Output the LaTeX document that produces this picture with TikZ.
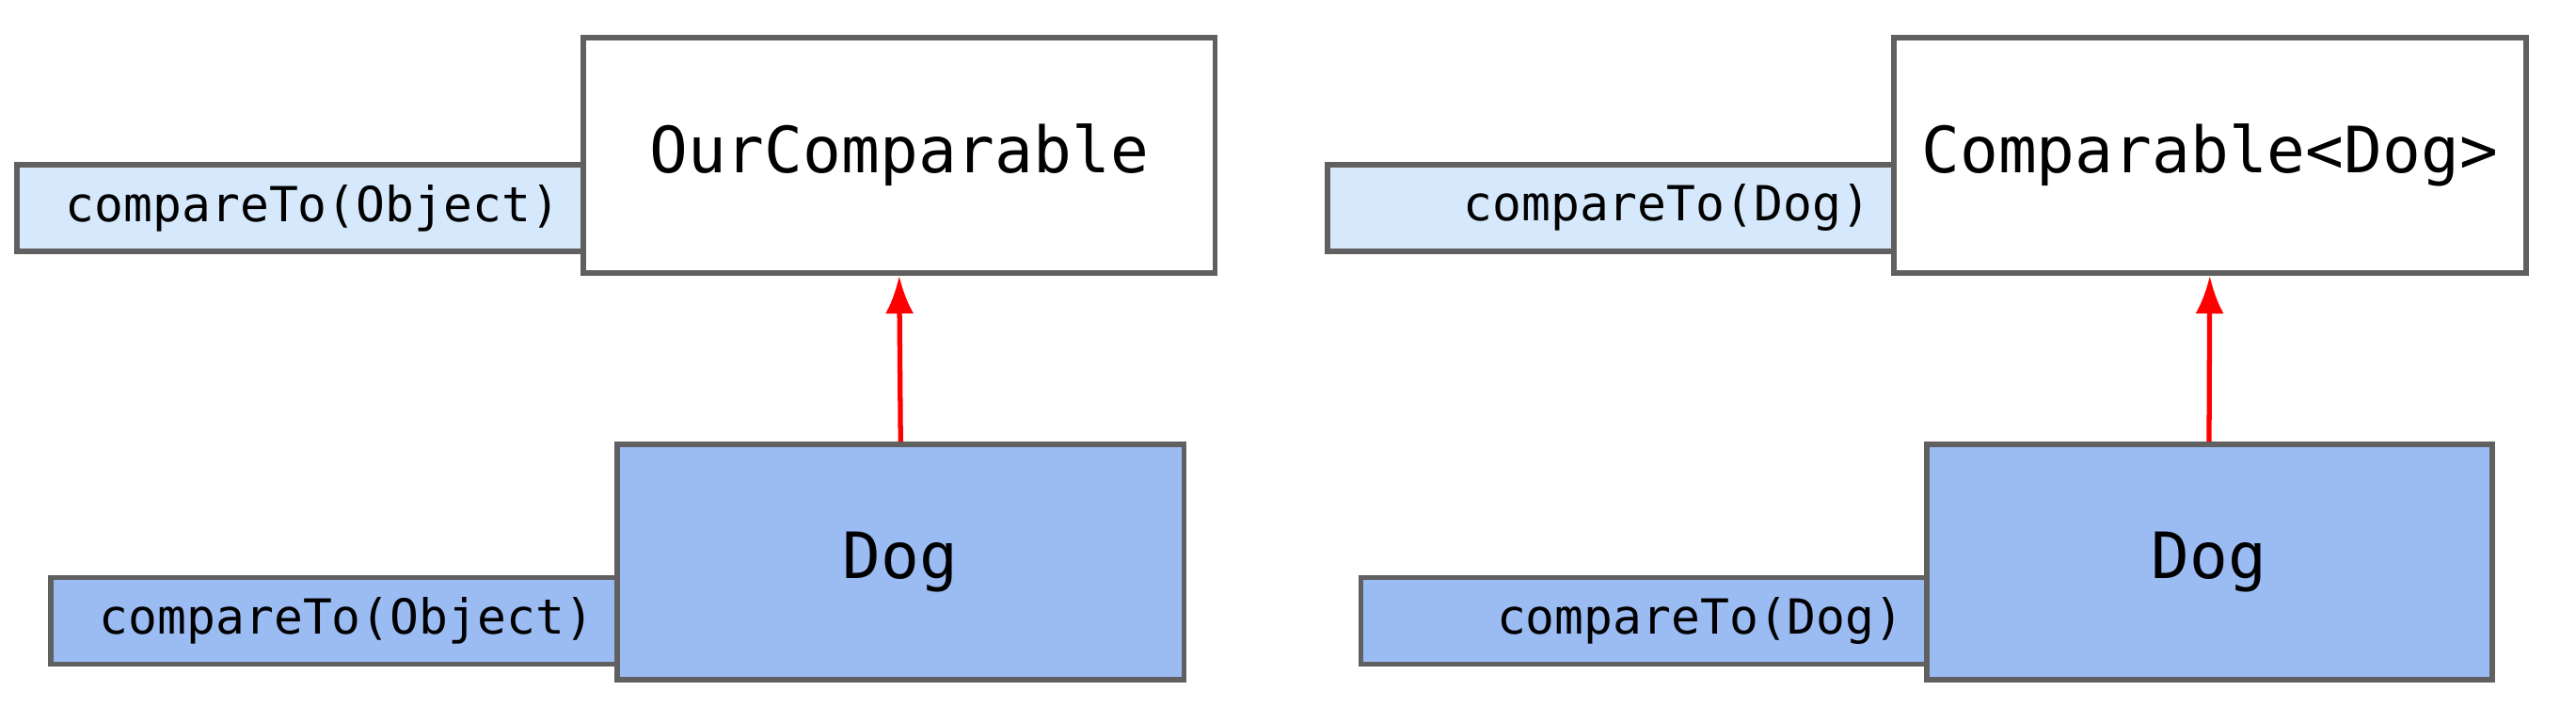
\documentclass[tikz,border=0pt]{standalone}
\usepackage{fontspec}
\usepackage{tikz}
\usetikzlibrary{arrows.meta}
\setmonofont{DejaVu Sans Mono}
\definecolor{boxgray}{RGB}{96, 96, 96}
\definecolor{ifacefill}{RGB}{213, 232, 252}
\definecolor{dogfill}{RGB}{155, 187, 243}

\begin{document}
\begin{tikzpicture}[every node/.style={font=\ttfamily},
    classbox/.style={draw=boxgray, line width=1.7pt, rectangle, font=\ttfamily\fontsize{19.3}{23}\selectfont},
    methodbox/.style={draw=boxgray, line width=1.7pt, rectangle, minimum height=0.92cm, inner xsep=0.25cm,
        text width=5.52cm, align=right, font=\ttfamily\fontsize{14.6}{17}\selectfont},
    inherit/.style={-{Latex[length=0.4cm, width=0.3cm]}, red, line width=1.5pt}]
                \useasboundingbox (0, 0) rectangle (27.38, -7.5);

                % Method boxes (drawn first, the class boxes cover their right edge)
                \node[methodbox, fill=ifacefill] (objtop) at (3.19, -2.21) {compareTo(Object)};
                \node[methodbox, fill=dogfill] (objbot) at (3.55, -6.595) {compareTo(Object)};
                \node[methodbox, fill=ifacefill] (dogtop) at (17.12, -2.21) {compareTo(Dog)};
                \node[methodbox, fill=dogfill] (dogbot) at (17.475, -6.595) {compareTo(Dog)};

                % Interfaces
                \node[classbox, fill=white, minimum width=6.715cm, minimum height=2.5cm] (ourcmp) at (9.5575, -1.65) {OurComparable};
                \node[classbox, fill=white, minimum width=6.715cm, minimum height=2.5cm] (cmpdog) at (23.4875, -1.65) {Comparable<Dog>};

                % Dog classes
                \node[classbox, fill=dogfill, minimum width=6.025cm, minimum height=2.5cm] (dogleft) at (9.5725, -5.97) {Dog};
                \node[classbox, fill=dogfill, minimum width=6.01cm, minimum height=2.5cm] (dogright) at (23.48, -5.97) {Dog};

                % Arrows
                \draw[inherit] (dogleft.north) -- (ourcmp.south);
                \draw[inherit] (dogright.north) -- (cmpdog.south);
            \end{tikzpicture}
\end{document}
